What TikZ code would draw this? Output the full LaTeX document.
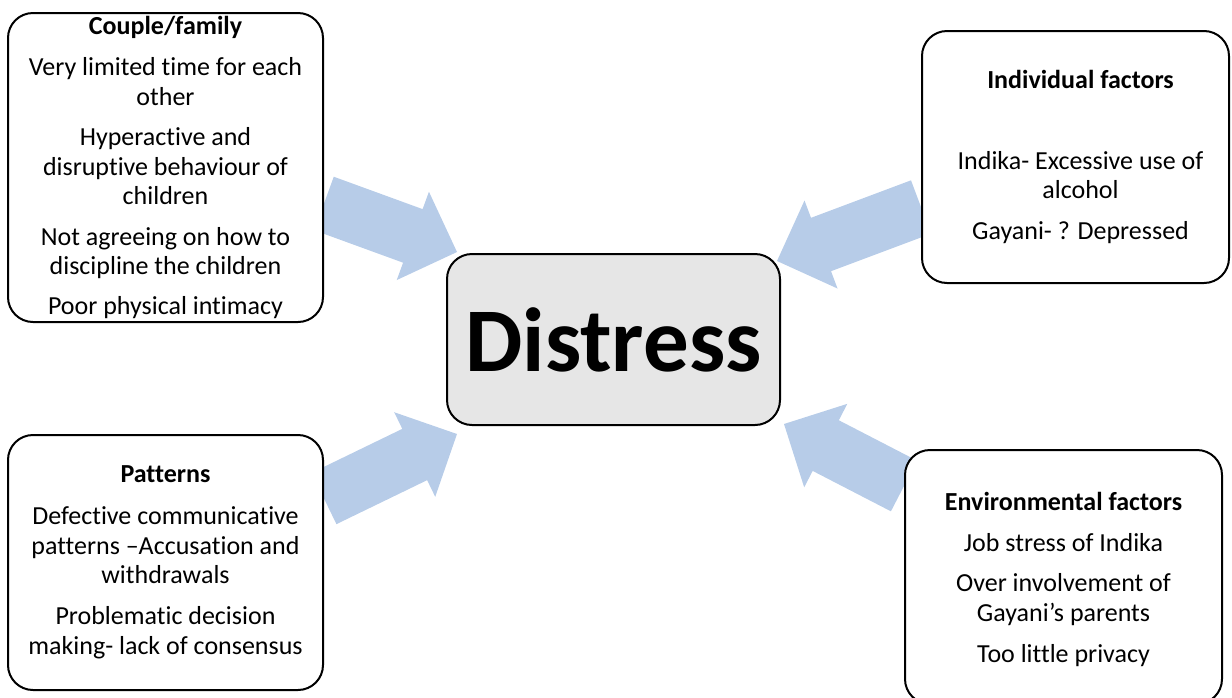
\documentclass[tikz,border=0pt]{standalone}
\usepackage{fontspec}
\setmainfont{Carlito}[Ligatures={NoCommon,NoContextual}]
\usetikzlibrary{calc}
\pgfdeclarelayer{background}
\pgfsetlayers{background,main}
\definecolor{arrowblue}{RGB}{183,204,232}
\definecolor{coregray}{RGB}{230,230,230}

% Broad block arrow from a start point #1 to a tip #2
\newcommand{\blockarrow}[2]{%
  \coordinate (hb) at ($(#2)!47pt!(#1)$);
  \fill[arrowblue]
    ($(#1)!28.5pt!90:(#2)$) -- ($(hb)!28.5pt!90:(#2)$) -- ($(hb)!47pt!90:(#2)$)
    -- (#2)
    -- ($(hb)!47pt!-90:(#2)$) -- ($(hb)!28.5pt!-90:(#2)$) -- ($(#1)!28.5pt!-90:(#2)$)
    -- cycle;
}

\begin{document}
\begin{tikzpicture}[x=1pt,y=-1pt,
  factorbox/.style={draw=black,line width=2pt,rounded corners=25pt,fill=white,inner sep=0pt},
  corebox/.style={draw=black,line width=2pt,rounded corners=25pt,fill=coregray,inner sep=0pt,
    font=\fontsize{91}{100}\selectfont\bfseries},
  factortext/.style={align=center,font=\fontsize{26}{29.5}\selectfont,inner sep=0pt},
]
\useasboundingbox (0,0) rectangle (1232,697);
\clip (0,0) rectangle (1232,697);

% central box
\node[corebox,minimum width=333pt,minimum height=171pt] (dist) at (613.5,339.5) {Distress};

% the four groups of factors
\node[factorbox,minimum width=315pt,minimum height=309pt] (couple) at (165.5,167.5) {};
\node[factorbox,minimum width=307pt,minimum height=252pt] (indiv) at (1075.5,157) {};
\node[factorbox,minimum width=315pt,minimum height=255pt] (pat) at (165.5,562.5) {};
\node[factorbox,minimum width=317pt,minimum height=254pt] (env) at (1063.5,577) {};

\node[factortext] (coupletxt) at (couple.center) {\textbf{Couple/family}\\[11.5pt]
  Very limited time for each\\ other\\[11pt]
  Hyperactive and\\ disruptive behaviour of\\ children\\[11pt]
  Not agreeing on how to\\ discipline the children\\[10pt]
  Poor physical intimacy};

\node[factortext,xshift=5pt] (indivtxt) at (indiv.center) {\textbf{Individual factors}\\[51.5pt]
  Indika- Excessive use of\\ alcohol\\[11.5pt]
  Gayani- ? Depressed};

\node[factortext] (pattxt) at (pat.center) {\textbf{Patterns}\\[12.5pt]
  Defective communicative\\ patterns –Accusation and\\ withdrawals\\[11.5pt]
  Problematic decision\\ making- lack of consensus};

\node[factortext,yshift=-2.5pt] (envtxt) at (env.center) {\textbf{Environmental factors}\\[11.5pt]
  Job stress of Indika\\[10.5pt]
  Over involvement of\\ Gayani’s parents\\[11.5pt]
  Too little privacy};

% arrow ends
\coordinate (sTL) at ($(couple.east)+(0,36)$);
\coordinate (tTL) at ($(dist.north west)+(11,-1)$);
\coordinate (sTR) at ($(indiv.west)+(0,50)$);
\coordinate (tTR) at ($(dist.north east)+(-4,8)$);
\coordinate (sBL) at ($(pat.east)+(0,-64)$);
\coordinate (tBL) at ($(dist.south west)+(11,8)$);
\coordinate (sBR) at ($(env.west)+(0,-91)$);
\coordinate (tBR) at ($(dist.south east)+(3,-2)$);

\begin{pgfonlayer}{background}
  \blockarrow{sTL}{tTL}
  \blockarrow{sTR}{tTR}
  \blockarrow{sBL}{tBL}
  \blockarrow{sBR}{tBR}
\end{pgfonlayer}
\end{tikzpicture}
\end{document}
